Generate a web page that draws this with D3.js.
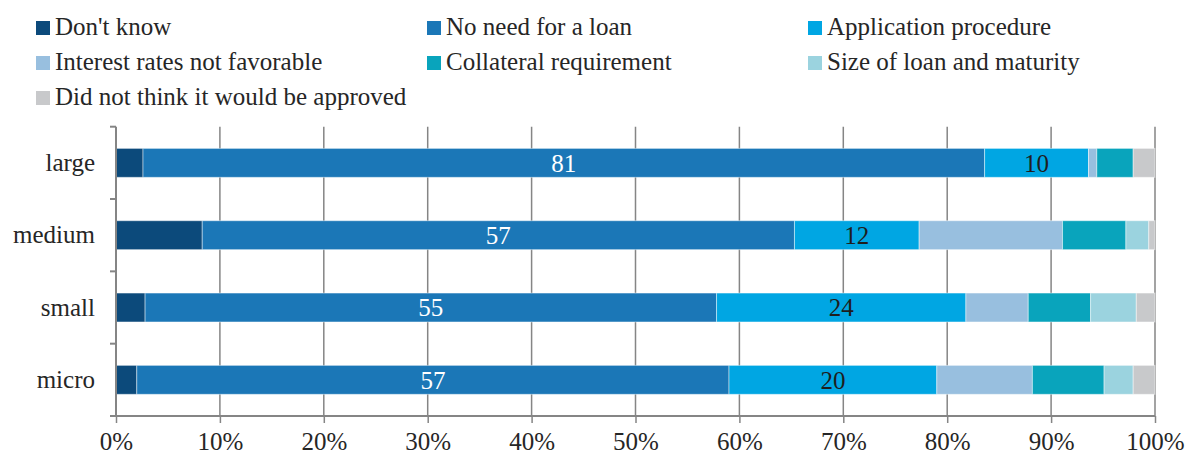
<!DOCTYPE html>
<html>
<head>
<meta charset="utf-8">
<script src="https://cdn.jsdelivr.net/npm/d3@7"></script>
<style>
  html, body { margin: 0; padding: 0; background: #fff; }
  svg { display: block; }
</style>
</head>
<body>
<svg id="chart" width="1186" height="455"></svg>
<script>
// Firm size categories, top to bottom
const categories = ["large", "medium", "small", "micro"];

// Reasons for not applying for a loan (stack order, left to right)
const seriesNames = [
  "Don't know",
  "No need for a loan",
  "Application procedure",
  "Interest rates not favorable",
  "Collateral requirement",
  "Size of loan and maturity",
  "Did not think it would be approved"
];

// Shares in percent, one array per reason, in category order
const dontKnow     = [2.6, 8.3, 2.8, 2.0];
const noNeed       = [81, 57, 55, 57];
const application  = [10, 12, 24, 20];
const interest     = [0.8, 13.8, 6.0, 9.2];
const collateral   = [3.5, 6.1, 6.0, 6.9];
const sizeMaturity = [0.0, 2.2, 4.4, 2.8];
const notApproved  = [2.1, 0.6, 1.8, 2.1];

const seriesValues = [dontKnow, noNeed, application, interest, collateral, sizeMaturity, notApproved];

const colors = ["#0c4a7b", "#1b77b7", "#00a6e3", "#98bfdf", "#09a4bc", "#9bd3df", "#c8c9cb"];

// Segments that carry a value label, and the label colour
const labelled = { "No need for a loan": "#ffffff", "Application procedure": "#1e1e1e" };

const xTicks = [0, 10, 20, 30, 40, 50, 60, 70, 80, 90, 100];

const FONT = '"Liberation Serif", "Times New Roman", serif';
const TEXT_COLOR = "#262626";

// Build a row table for d3.stack
const rows = categories.map((c, i) => {
  const r = { category: c };
  seriesNames.forEach((s, j) => { r[s] = seriesValues[j][i]; });
  return r;
});

const svg = d3.select("#chart");
const plotLeft = 116, plotRight = 1155, plotTop = 126.7, plotBottom = 416;

const x = d3.scaleLinear().domain([0, 100]).range([plotLeft, plotRight]);
const y = d3.scaleBand().domain(categories).range([plotTop, plotBottom])
  .paddingInner(0.6).paddingOuter(0.3);

const axisColor = "#858585";

// Vertical gridlines (behind bars)
svg.append("g").selectAll("line").data(xTicks.slice(1)).join("line")
  .attr("x1", d => x(d)).attr("x2", d => x(d))
  .attr("y1", plotTop).attr("y2", plotBottom)
  .attr("stroke", axisColor).attr("stroke-width", 1.5);

// Stacked bars
const stack = d3.stack().keys(seriesNames);
const layers = stack(rows);

const layerG = svg.append("g").selectAll("g").data(layers).join("g")
  .attr("fill", (d, i) => colors[i]);

layerG.selectAll("rect").data(d => d.filter(p => p[1] - p[0] > 0)).join("rect")
  .attr("x", d => x(d[0]))
  .attr("width", d => x(d[1]) - x(d[0]))
  .attr("y", d => y(d.data.category))
  .attr("height", y.bandwidth())
  .attr("stroke", "#ffffff").attr("stroke-opacity", 0.45).attr("stroke-width", 1);

// Value labels
layers.filter(l => labelled[l.key]).forEach(l => {
  svg.append("g").selectAll("text").data(l).join("text")
    .attr("x", d => x((d[0] + d[1]) / 2))
    .attr("y", d => y(d.data.category) + y.bandwidth() / 2)
    .attr("dy", "0.35em")
    .attr("text-anchor", "middle")
    .style("font-family", FONT)
    .style("font-size", "25px")
    .style("fill", labelled[l.key])
    .text(d => d3.format(".0f")(d[1] - d[0]));
});

// Y axis line with ticks at category boundaries
const step = y.step();
const boundaries = [plotTop].concat(categories.map(c => y(c) + y.bandwidth() + step * y.paddingInner() / 2));
boundaries[boundaries.length - 1] = plotBottom;
svg.append("line")
  .attr("x1", plotLeft).attr("x2", plotLeft).attr("y1", plotTop).attr("y2", plotBottom)
  .attr("stroke", axisColor).attr("stroke-width", 2);
svg.append("g").selectAll("line").data(boundaries).join("line")
  .attr("x1", plotLeft - 6).attr("x2", plotLeft)
  .attr("y1", d => d).attr("y2", d => d)
  .attr("stroke", axisColor).attr("stroke-width", 2);

// Category labels
svg.append("g").selectAll("text").data(categories).join("text")
  .attr("x", 95)
  .attr("y", d => y(d) + y.bandwidth() / 2)
  .attr("dy", "0.33em")
  .attr("text-anchor", "end")
  .style("font-family", FONT)
  .style("font-size", "25px")
  .style("fill", TEXT_COLOR)
  .text(d => d);

// X axis
const xAxis = svg.append("g")
  .attr("transform", `translate(0,${plotBottom})`)
  .call(d3.axisBottom(x).tickValues(xTicks).tickSize(7).tickFormat(d => d + "%"));
xAxis.select(".domain").attr("stroke", axisColor).attr("stroke-width", 2)
  .attr("d", `M${plotLeft - 6},0H${plotRight}`);
xAxis.selectAll(".tick line").attr("stroke", axisColor).attr("stroke-width", 1.5);
xAxis.selectAll(".tick text")
  .attr("y", 0).attr("dy", 0)
  .attr("transform", "translate(0,34)")
  .style("font-family", FONT)
  .style("font-size", "25px")
  .style("fill", TEXT_COLOR);

// Legend: three columns, rows filled left to right
const legendCols = [36, 427, 808];
const legendRows = [35, 70, 105];
const legend = svg.append("g").selectAll("g").data(seriesNames).join("g")
  .attr("transform", (d, i) => `translate(${legendCols[i % 3]},${legendRows[Math.floor(i / 3)]})`);
legend.append("rect")
  .attr("x", 0).attr("y", -14).attr("width", 14).attr("height", 14)
  .attr("fill", (d, i) => colors[i]);
legend.append("text")
  .attr("x", 19).attr("y", 0)
  .style("font-family", FONT)
  .style("font-size", "25px")
  .style("fill", TEXT_COLOR)
  .text(d => d);
</script>
</body>
</html>
